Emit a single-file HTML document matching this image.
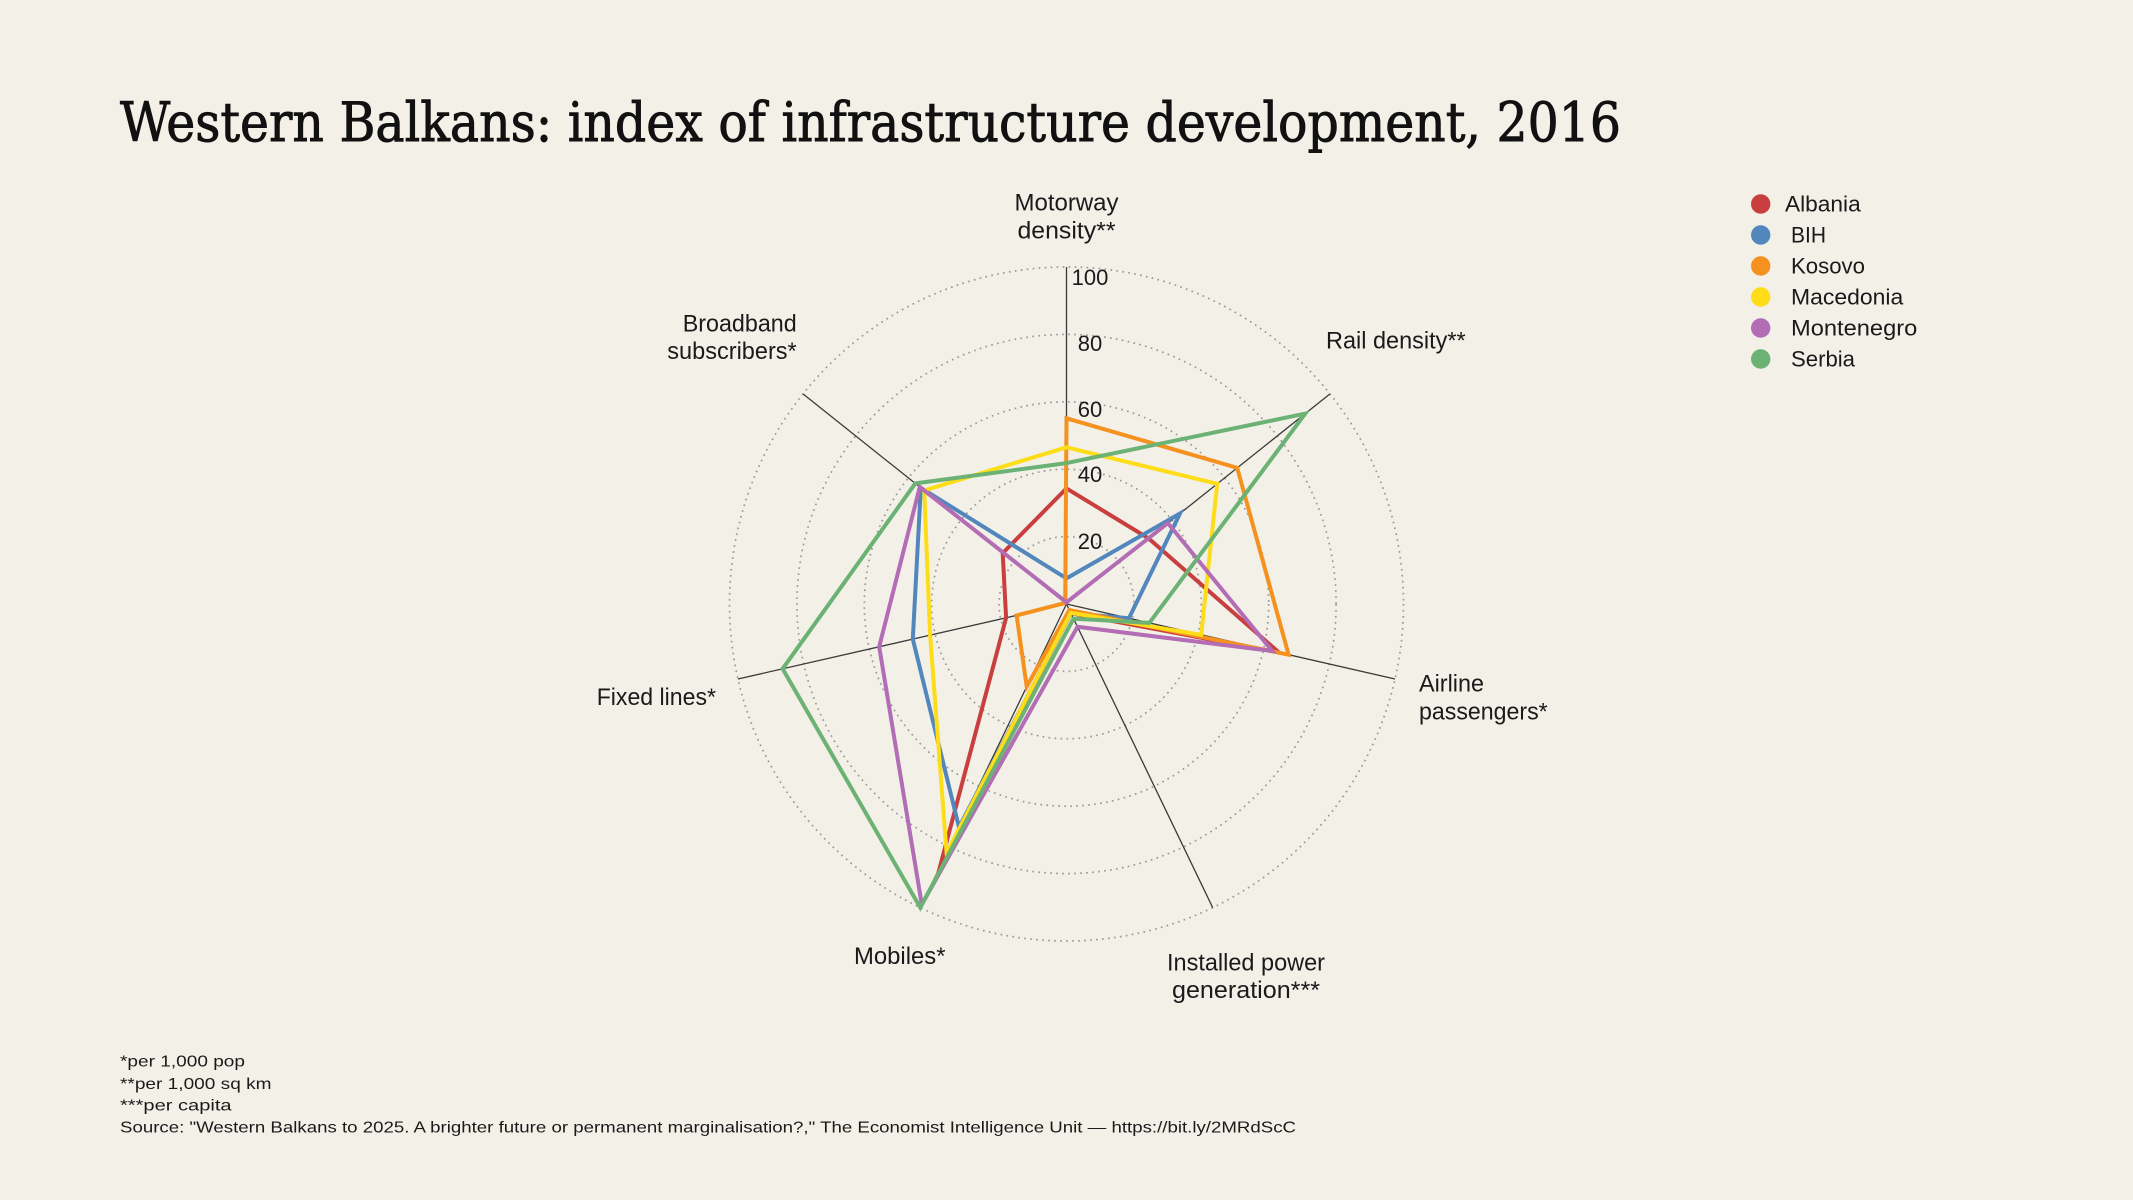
<!DOCTYPE html>
<html>
<head>
<meta charset="utf-8">
<style>
  html,body{margin:0;padding:0;background:#f3f0e8;}
  svg{display:block;}
  .lbl{font-family:"Liberation Sans",sans-serif;font-size:24px;fill:#1a1a1a;}
  .tick{font-family:"Liberation Sans",sans-serif;font-size:22px;fill:#1a1a1a;}
  .leg{font-family:"Liberation Sans",sans-serif;font-size:22px;fill:#1a1a1a;}
  .foot{font-family:"Liberation Sans",sans-serif;font-size:16px;fill:#1a1a1a;}
  .title{font-family:"DejaVu Serif","Liberation Serif",serif;font-size:54px;fill:#111;stroke:#111;stroke-width:0.9;}
  .grid{fill:none;stroke:#9a9a9a;stroke-width:1.7;stroke-dasharray:1.7 4.3;}
  .axis{stroke:#3a3a3a;stroke-width:1.3;}
  .s{fill:none;stroke-width:4;stroke-linejoin:miter;stroke-miterlimit:20;}
</style>
</head>
<body>
<svg width="2133" height="1200" viewBox="0 0 2133 1200" xmlns="http://www.w3.org/2000/svg">
  <rect x="0" y="0" width="2133" height="1200" fill="#f3f0e8"/>

  <text class="title" x="120" y="141" textLength="1501" lengthAdjust="spacingAndGlyphs">Western Balkans: index of infrastructure development, 2016</text>

  <!-- grid circles -->
  <circle class="grid" cx="1066.5" cy="604" r="67.4"/>
  <circle class="grid" cx="1066.5" cy="604" r="134.8"/>
  <circle class="grid" cx="1066.5" cy="604" r="202.2"/>
  <circle class="grid" cx="1066.5" cy="604" r="269.6"/>
  <circle class="grid" cx="1066.5" cy="604" r="337"/>

  <!-- axes -->
  <line class="axis" x1="1066.5" y1="604" x2="1066.5" y2="267"/>
  <line class="axis" x1="1066.5" y1="604" x2="1330.0" y2="393.9"/>
  <line class="axis" x1="1066.5" y1="604" x2="1395.0" y2="679.0"/>
  <line class="axis" x1="1066.5" y1="604" x2="1212.7" y2="907.6"/>
  <line class="axis" x1="1066.5" y1="604" x2="920.3" y2="907.6"/>
  <line class="axis" x1="1066.5" y1="604" x2="738.0" y2="679.0"/>
  <line class="axis" x1="1066.5" y1="604" x2="803.0" y2="393.9"/>

  <!-- series -->
  <polygon class="s" stroke="#c93e3e" points="1066.5,488.4 1148.7,538.5 1279.0,652.5 1070.9,613.1 940.0,866.6 1006.1,617.8 1002.7,553.1"/>
  <polygon class="s" stroke="#5187bd" points="1066.5,578.4 1180.0,513.5 1128.9,618.2 1070.9,613.1 959.0,827.2 912.8,639.1 920.8,487.8"/>
  <polygon class="s" stroke="#f5921f" points="1066.5,418.3 1237.2,467.8 1288.6,654.7 1069.4,610.0 1026.7,686.6 1016.6,615.4 1065.2,602.9"/>
  <polygon class="s" stroke="#fddd17" points="1066.5,447.3 1217.2,483.8 1201.2,634.8 1070.8,612.8 946.6,852.9 930.1,635.1 924.2,490.5"/>
  <polygon class="s" stroke="#b26db5" points="1066.5,602.3 1167.9,523.1 1272.2,651.0 1077.5,626.8 921.8,904.6 879.2,646.7 919.8,487.0"/>
  <polygon class="s" stroke="#6bb274" points="1066.5,463.1 1305.2,413.6 1149.3,622.9 1073.5,618.6 920.3,907.6 782.6,668.8 915.3,483.4"/>

  <!-- tick labels -->
  <text class="tick" x="1090" y="285" text-anchor="middle">100</text>
  <text class="tick" x="1090" y="351" text-anchor="middle">80</text>
  <text class="tick" x="1090" y="417" text-anchor="middle">60</text>
  <text class="tick" x="1090" y="482" text-anchor="middle">40</text>
  <text class="tick" x="1090" y="549" text-anchor="middle">20</text>

  <!-- axis labels -->
  <text class="lbl" x="1014.5" y="210.5" textLength="104" lengthAdjust="spacingAndGlyphs">Motorway</text>
  <text class="lbl" x="1017.5" y="238.5" textLength="98" lengthAdjust="spacingAndGlyphs">density**</text>
  <text class="lbl" x="1326" y="348.3" textLength="139.7" lengthAdjust="spacingAndGlyphs">Rail density**</text>
  <text class="lbl" x="1419" y="691.7" textLength="65" lengthAdjust="spacingAndGlyphs">Airline</text>
  <text class="lbl" x="1419" y="719.5" textLength="128.7" lengthAdjust="spacingAndGlyphs">passengers*</text>
  <text class="lbl" x="1167" y="970.5" textLength="158" lengthAdjust="spacingAndGlyphs">Installed power</text>
  <text class="lbl" x="1172" y="998" textLength="148" lengthAdjust="spacingAndGlyphs">generation***</text>
  <text class="lbl" x="854" y="964" textLength="91.5" lengthAdjust="spacingAndGlyphs">Mobiles*</text>
  <text class="lbl" x="596.7" y="705" textLength="119.3" lengthAdjust="spacingAndGlyphs">Fixed lines*</text>
  <text class="lbl" x="682.7" y="331.7" textLength="114" lengthAdjust="spacingAndGlyphs">Broadband</text>
  <text class="lbl" x="667.3" y="359" textLength="129.4" lengthAdjust="spacingAndGlyphs">subscribers*</text>

  <!-- legend -->
  <circle cx="1760.7" cy="204" r="9.7" fill="#c93e3e"/>
  <circle cx="1760.7" cy="235" r="9.7" fill="#5187bd"/>
  <circle cx="1760.7" cy="266" r="9.7" fill="#f5921f"/>
  <circle cx="1760.7" cy="297" r="9.7" fill="#fddd17"/>
  <circle cx="1760.7" cy="328" r="9.7" fill="#b26db5"/>
  <circle cx="1760.7" cy="359" r="9.7" fill="#6bb274"/>
  <text class="leg" x="1785" y="211.7" textLength="75.7" lengthAdjust="spacingAndGlyphs">Albania</text>
  <text class="leg" x="1791" y="242.7" textLength="35" lengthAdjust="spacingAndGlyphs">BIH</text>
  <text class="leg" x="1791" y="273.7" textLength="74" lengthAdjust="spacingAndGlyphs">Kosovo</text>
  <text class="leg" x="1791" y="304.7" textLength="112.3" lengthAdjust="spacingAndGlyphs">Macedonia</text>
  <text class="leg" x="1791" y="335.7" textLength="126.3" lengthAdjust="spacingAndGlyphs">Montenegro</text>
  <text class="leg" x="1791" y="366.7" textLength="64" lengthAdjust="spacingAndGlyphs">Serbia</text>

  <!-- footnotes -->
  <text class="foot" x="120" y="1066.7" textLength="125" lengthAdjust="spacingAndGlyphs">*per 1,000 pop</text>
  <text class="foot" x="120" y="1089" textLength="151.5" lengthAdjust="spacingAndGlyphs">**per 1,000 sq km</text>
  <text class="foot" x="120" y="1110.7" textLength="111.6" lengthAdjust="spacingAndGlyphs">***per capita</text>
  <text class="foot" x="120" y="1132.7" textLength="1176" lengthAdjust="spacingAndGlyphs">Source: "Western Balkans to 2025. A brighter future or permanent marginalisation?," The Economist Intelligence Unit — https://bit.ly/2MRdScC</text>
</svg>
</body>
</html>
